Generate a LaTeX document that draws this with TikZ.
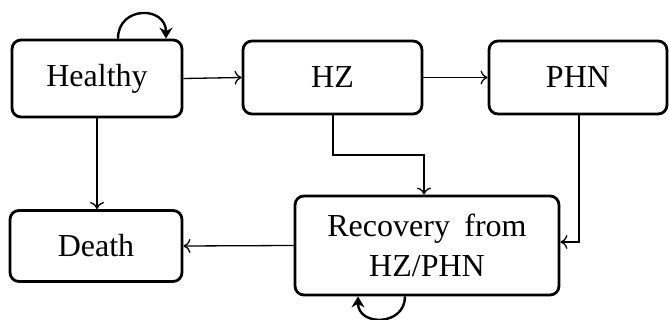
\documentclass[tikz,border=0pt]{standalone}
\usepackage{fontspec}
\setmainfont{Liberation Serif}
\usetikzlibrary{arrows.meta}
\begin{document}
\begin{tikzpicture}[x=1pt,y=-1pt,
  state/.style={draw,line width=2.8pt,rounded corners=9pt,inner sep=0pt,font=\fontsize{32}{40}\selectfont,align=center},
  conn/.style={line width=1.3pt,-{To[length=7pt,width=14pt,line width=1.3pt]}},
  selfloop/.style={line width=2.4pt,-{Stealth[length=11pt,width=13pt]}}]
\useasboundingbox (0,0) rectangle (669,320);
\node[state,minimum width=170pt,minimum height=77pt] (healthy) at (97,78.5) {Healthy};
\node[state,minimum width=179pt,minimum height=73pt] (hz) at (332.5,77.5) {HZ};
\node[state,minimum width=178pt,minimum height=73pt] (phn) at (578,77.5) {PHN};
\node[state,minimum width=172pt,minimum height=71pt] (death) at (96,246) {Death};
\node[state,minimum width=264pt,minimum height=99pt] (rec) at (427,245.5) {Recovery\hspace{0.45em}from\\HZ/PHN};
\coordinate (hzturn) at (333,155);
\coordinate (phnturn) at (579,242);
\draw[conn] (healthy.east) -- (hz.west);
\draw[conn] (hz.east) -- (phn.west);
\draw[conn] (healthy.south) -- (healthy.south |- death.north);
\draw[conn] (hz.south -| hzturn) -- (hzturn) -| ([xshift=-3pt]rec.north);
\draw[conn] (phn.south -| phnturn) -- (phnturn) -- (rec.east |- phnturn);
\draw[conn] (rec.west) -- (death.east);
\draw[selfloop] ([xshift=21pt]healthy.north) .. controls +(0,-33) and +(0,-33) .. ([xshift=69pt]healthy.north);
\draw[selfloop] ([xshift=-22pt]rec.south) .. controls +(0,30) and +(0,30) .. ([xshift=-69pt]rec.south);
\end{tikzpicture}
\end{document}
